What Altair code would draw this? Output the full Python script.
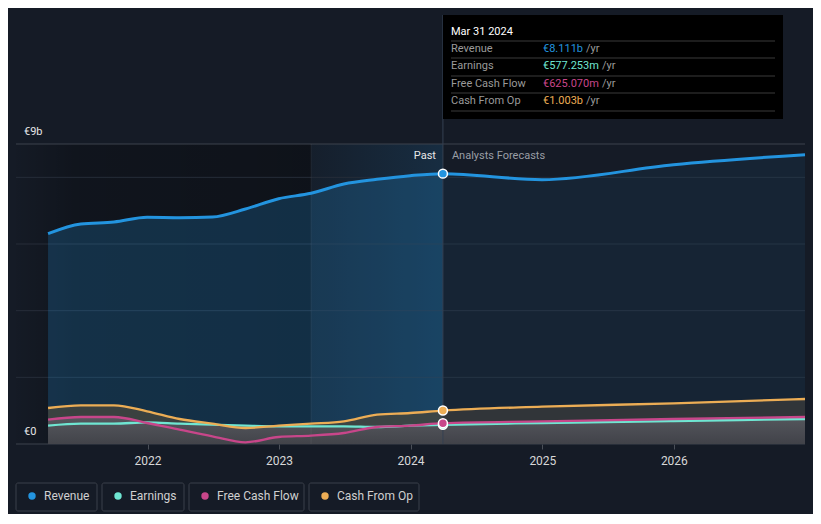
import altair as alt
import pandas as pd
import numpy as np

# ---------------- data ----------------
past_dates = ["2021-03-31", "2021-06-30", "2021-09-30", "2021-12-31", "2022-03-31",
              "2022-06-30", "2022-09-30", "2022-12-31", "2023-03-31", "2023-06-30",
              "2023-09-30", "2023-12-31", "2024-03-31"]
forecast_dates = ["2024-12-31", "2025-12-31", "2026-12-31"]

revenue_past = [6.31, 6.60, 6.66, 6.80, 6.79, 6.81, 7.05, 7.36, 7.52, 7.80, 7.94, 8.05, 8.111]
revenue_fc = [7.93, 8.38, 8.68]
earnings_past = [0.55, 0.61, 0.61, 0.65, 0.61, 0.58, 0.55, 0.53, 0.53, 0.53, 0.51, 0.55, 0.577]
earnings_fc = [0.63, 0.69, 0.75]
fcf_past = [0.73, 0.81, 0.81, 0.63, 0.43, 0.23, 0.05, 0.21, 0.25, 0.33, 0.51, 0.55, 0.625]
fcf_fc = [0.68, 0.75, 0.81]
cfo_past = [1.08, 1.16, 1.16, 0.98, 0.75, 0.61, 0.48, 0.55, 0.61, 0.68, 0.88, 0.93, 1.003]
cfo_fc = [1.12, 1.22, 1.35]

series_names = ["Revenue", "Earnings", "Free Cash Flow", "Cash From Op"]
series_colors = ["#2394df", "#6fe6d2", "#c8468a", "#ecad55"]

tooltip_title = "Mar 31 2024"
tooltip_values = ["€8.111b", "€577.253m", "€625.070m", "€1.003b"]

x_ticks = [2022, 2023, 2024, 2025, 2026]
grid_inner = [2, 4, 6, 8]
grid_edges = [0, 9]
y_labels = ["€0", "€9b"]
y_label_values = [0, 9]

now_date = "2024-03-31"
ltm_start = "2023-03-31"

# ---------------- frames ----------------
dates = pd.to_datetime(past_dates + forecast_dates)
values = {
    "Revenue": revenue_past + revenue_fc,
    "Earnings": earnings_past + earnings_fc,
    "Free Cash Flow": fcf_past + fcf_fc,
    "Cash From Op": cfo_past + cfo_fc,
}
long_df = pd.concat(
    [pd.DataFrame({"date": dates, "value": values[n], "series": n}) for n in series_names],
    ignore_index=True,
)
wide_df = pd.DataFrame({"date": dates, **values})
wide_df["low"] = np.maximum(wide_df["Earnings"], wide_df["Free Cash Flow"])
now_ts = pd.Timestamp(now_date)
past_df = wide_df[wide_df["date"] <= now_ts]
fc_df = wide_df[wide_df["date"] >= now_ts]

W, H = 789, 300
BG = "#151b26"
FONT = "Roboto"

x_dom = [alt.DateTime(year=2021, month=1, date=1), alt.DateTime(year=2026, month=12, date=31)]
x_scale = alt.Scale(domain=x_dom)
y_scale = alt.Scale(domain=[0, 9], nice=False, zero=False)

x_axis = alt.Axis(
    values=[alt.DateTime(year=y, month=1, date=1) for y in x_ticks],
    format="%Y", title=None, grid=False, domain=False,
    tickColor="#4a4f58", tickSize=5, labelColor="#d8d8d8", labelFontSize=12,
    labelFont=FONT, labelPadding=6,
)

# background shading
shade_df = pd.DataFrame({
    "start": pd.to_datetime(["2021-01-01"]), "end": pd.to_datetime([ltm_start]),
})
past_shade = alt.Chart(shade_df).mark_rect(
    color=alt.Gradient(gradient="linear", x1=0, x2=1, y1=0, y2=0,
                       stops=[alt.GradientStop(color="rgba(0,0,0,0.02)", offset=0),
                              alt.GradientStop(color="rgba(0,0,0,0.24)", offset=0.2),
                              alt.GradientStop(color="rgba(0,0,0,0.32)", offset=1)])
).encode(
    x=alt.X("start:T", scale=x_scale, axis=x_axis, title=None),
    x2="end:T",
    y=alt.Y(datum=0, scale=y_scale, axis=None), y2=alt.datum(9),
)
ltm_df = pd.DataFrame({"start": pd.to_datetime([ltm_start]), "end": pd.to_datetime([now_date])})
ltm_shade = alt.Chart(ltm_df).mark_rect(
    color=alt.Gradient(gradient="linear", x1=0, x2=1, y1=0, y2=0,
                       stops=[alt.GradientStop(color="rgba(35,148,223,0.03)", offset=0),
                              alt.GradientStop(color="rgba(35,148,223,0.15)", offset=1)])
).encode(x="start:T", x2="end:T", y=alt.datum(0), y2=alt.datum(9))

grid_in = alt.Chart(pd.DataFrame({"v": grid_inner})).mark_rule(
    color="#262d39", strokeWidth=1
).encode(y="v:Q", x=alt.value(0), x2=alt.value(W))
grid_ed = alt.Chart(pd.DataFrame({"v": grid_edges})).mark_rule(
    color="#3d424c", strokeWidth=1
).encode(y="v:Q", x=alt.value(0), x2=alt.value(W))

rev_area_past = alt.Chart(past_df).mark_area(
    interpolate="monotone", color="#2394df", opacity=0.22
).encode(x="date:T", y=alt.Y("Revenue:Q"), y2=alt.datum(0))
rev_area_fc = alt.Chart(fc_df).mark_area(
    interpolate="monotone", color="#2394df", opacity=0.08
).encode(x="date:T", y=alt.Y("Revenue:Q"), y2=alt.datum(0))

cfo_area_past = alt.Chart(past_df).mark_area(
    interpolate="monotone", color="#45463f", opacity=0.8
).encode(x="date:T", y="Cash From Op:Q", y2=alt.datum(0))
cfo_area_fc = alt.Chart(fc_df).mark_area(
    interpolate="monotone", color="#34373a", opacity=0.9
).encode(x="date:T", y="Cash From Op:Q", y2=alt.datum(0))

low_grad = alt.Gradient(gradient="linear", x1=0, x2=0, y1=0, y2=1,
                        stops=[alt.GradientStop(color="#5a5b62", offset=0),
                               alt.GradientStop(color="#43444b", offset=1)])
low_area = alt.Chart(wide_df).mark_area(
    interpolate="monotone", color=low_grad, opacity=0.88,
).encode(x="date:T", y="low:Q", y2=alt.datum(0))

color_scale = alt.Scale(domain=series_names, range=series_colors)
lines = alt.Chart(long_df).mark_line(interpolate="monotone").encode(
    x="date:T", y="value:Q",
    color=alt.Color("series:N", scale=color_scale, legend=None),
    strokeWidth=alt.condition(alt.datum.series == "Revenue", alt.value(3), alt.value(2.3)),
    order=alt.Order("date:T"),
)

# vertical rules
now_rule = alt.Chart(pd.DataFrame({"d": pd.to_datetime([now_date])})).mark_rule(
    color="#344152", strokeWidth=1, clip=False
).encode(x="d:T", y=alt.value(-129), y2=alt.value(H))
ltm_rule = alt.Chart(pd.DataFrame({"d": pd.to_datetime([ltm_start])})).mark_rule(
    color="rgba(255,255,255,0.06)", strokeWidth=1
).encode(x="d:T", y=alt.datum(9), y2=alt.datum(0))

pts_df = long_df[long_df["date"] == now_ts].copy()
pts_order = {"Earnings": 0, "Free Cash Flow": 1, "Cash From Op": 2, "Revenue": 3}
pts_df["o"] = pts_df["series"].map(pts_order)
pts_df = pts_df.sort_values("o")
points = alt.Chart(pts_df).mark_point(
    filled=True, size=80, stroke="white", strokeWidth=1.5, opacity=1
).encode(
    x="date:T", y="value:Q",
    fill=alt.Fill("series:N", scale=color_scale, legend=None),
    order="o:Q",
)

ylab = alt.Chart(pd.DataFrame({"v": y_label_values, "t": y_labels})).mark_text(
    align="left", baseline="middle", dy=-12, color="#e6e6e6", fontSize=11, font=FONT, clip=False
).encode(y="v:Q", x=alt.value(8), text="t:N")

past_txt = alt.Chart(pd.DataFrame({"d": pd.to_datetime([now_date])})).mark_text(
    text="Past", align="right", baseline="middle", dx=-7, color="#e8e8e8", fontSize=11, font=FONT
).encode(x="d:T", y=alt.value(12))
fc_txt = alt.Chart(pd.DataFrame({"d": pd.to_datetime([now_date])})).mark_text(
    text="Analysts Forecasts", align="left", baseline="middle", dx=9, color="#9a9ea5",
    fontSize=11, font=FONT
).encode(x="d:T", y=alt.value(12))

layers = [past_shade, ltm_shade, grid_in, grid_ed, rev_area_past, rev_area_fc,
          cfo_area_past, cfo_area_fc, low_area, ltm_rule, now_rule, lines, points,
          ylab, past_txt, fc_txt]

# tooltip panel (decoration positions in pixels)
one = pd.DataFrame({"a": [0]})
layers.append(alt.Chart(one).mark_rect(color="#000000", clip=False).encode(
    x=alt.value(427), x2=alt.value(767), y=alt.value(-129), y2=alt.value(-25)))
layers.append(alt.Chart(one).mark_text(
    text=tooltip_title, align="left", baseline="middle", color="#ffffff", fontSize=11,
    font=FONT, clip=False).encode(x=alt.value(435), y=alt.value(-112)))
row_y = [-95, -78, -60, -43]
sep_y = [-103, -86, -68, -51, -33]
yr_x = [570, 586, 586, 570]
for sy in sep_y:
    layers.append(alt.Chart(one).mark_rule(color="#3a3a3a", clip=False).encode(
        x=alt.value(435), x2=alt.value(759), y=alt.value(sy)))
for name, val, col, ry, yx in zip(series_names, tooltip_values, series_colors, row_y, yr_x):
    layers.append(alt.Chart(one).mark_text(
        text=name, align="left", baseline="middle", color="#9a9a9a", fontSize=11, font=FONT,
        clip=False
    ).encode(x=alt.value(435), y=alt.value(ry)))
    layers.append(alt.Chart(one).mark_text(
        text=val, align="left", baseline="middle", color=col, fontSize=11, font=FONT, clip=False
    ).encode(x=alt.value(527), y=alt.value(ry)))
    layers.append(alt.Chart(one).mark_text(
        text="/yr", align="left", baseline="middle", color="#9a9a9a", fontSize=11, font=FONT,
        clip=False
    ).encode(x=alt.value(yx), y=alt.value(ry)))

# custom legend
leg_x = [0, 86, 173, 293]
leg_w = [81, 82, 115, 110]
for name, col, lx, lw in zip(series_names, series_colors, leg_x, leg_w):
    layers.append(alt.Chart(one).mark_rect(
        fill=BG, stroke="#3b404a", strokeWidth=1, cornerRadius=2, clip=False
    ).encode(x=alt.value(lx), x2=alt.value(lx + lw), y=alt.value(339), y2=alt.value(367)))
    layers.append(alt.Chart(one).mark_point(
        filled=True, size=55, color=col, opacity=1, clip=False
    ).encode(x=alt.value(lx + 16), y=alt.value(352)))
    layers.append(alt.Chart(one).mark_text(
        text=name, align="left", baseline="middle", color="#d0d0d0", fontSize=12, font=FONT,
        clip=False
    ).encode(x=alt.value(lx + 28), y=alt.value(352)))

chart = alt.layer(*layers).properties(
    width=W, height=H,
    autosize=alt.AutoSizeParams(type="none"),
    padding={"left": 8, "top": 136, "right": 8, "bottom": 70},
    background=BG,
).configure_view(stroke=None)

chart.save("out.html", embed_options={"renderer": "svg", "actions": False})
